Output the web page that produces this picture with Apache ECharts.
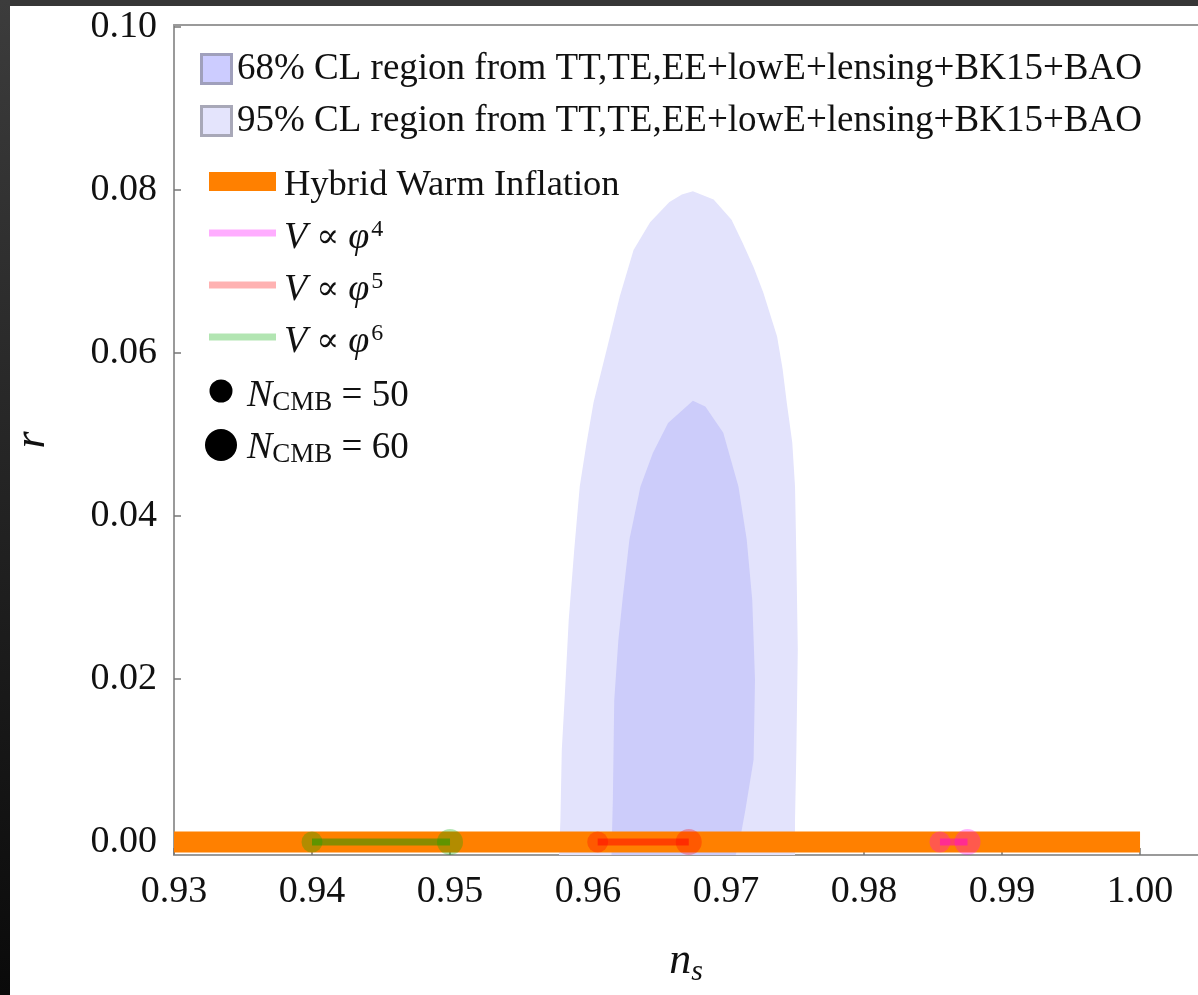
<!DOCTYPE html>
<html><head><meta charset="utf-8">
<script src="https://cdn.jsdelivr.net/npm/echarts@6/dist/echarts.min.js"></script>
<style>html,body{margin:0;padding:0;background:#fff}#c{width:1198px;height:995px}</style>
</head><body><div id="c"></div>
<script>
// ---- data ----
const xTicks = [0.93, 0.94, 0.95, 0.96, 0.97, 0.98, 0.99, 1.00];
const yTicks = [0.00, 0.02, 0.04, 0.06, 0.08, 0.10];

// 95% CL contour (ns, r)
const contour95 = [
  [0.9579,-0.0016],[0.9580,0.0027],[0.9581,0.0113],[0.9583,0.0174],[0.9586,0.0272],
  [0.9590,0.0358],[0.9594,0.0436],[0.9599,0.0490],[0.9604,0.0539],[0.9614,0.0607],
  [0.9623,0.0669],[0.9633,0.0726],[0.9645,0.0760],[0.9659,0.0785],[0.9668,0.0794],
  [0.9676,0.0798],[0.9691,0.0788],[0.9704,0.0763],[0.9712,0.0735],[0.9720,0.0705],
  [0.9727,0.0674],[0.9737,0.0620],[0.9741,0.0580],[0.9744,0.0539],[0.9748,0.0490],
  [0.9750,0.0436],[0.9751,0.0346],[0.9752,0.0236],[0.9751,0.0113],[0.9750,0.0027],
  [0.9750,-0.0016]
];
// 68% CL contour (ns, r)
const contour68 = [
  [0.9617,-0.0016],[0.9618,0.0052],[0.9619,0.0174],[0.9622,0.0248],[0.9625,0.0297],
  [0.9630,0.0371],[0.9638,0.0436],[0.9647,0.0477],[0.9658,0.0514],[0.9676,0.0541],
  [0.9685,0.0534],[0.9698,0.0502],[0.9709,0.0436],[0.9715,0.0371],[0.9719,0.0297],
  [0.9721,0.0199],[0.9720,0.0101],[0.9714,0.0039],[0.9710,0.0002],[0.9707,-0.0016]
];
const hybridNs = [0.93, 1.00];
const hybridR  = [0, 0];
const nCmb   = [50, 60];
const phi4Ns = [0.9855, 0.9875];
const phi5Ns = [0.9607, 0.9673];
const phi6Ns = [0.9400, 0.9500];
const modelR = [0, 0];

// ---- styling ----
const FONT = 'Liberation Serif';
const AXIS_COLOR = '#9a9a9a';
const dotSize = {50: 21, 60: 26};

function polySeries(name, pts, color, z) {
  return {
    type: 'custom', name, z, silent: true, animation: false,
    data: pts,
    encode: {x: 0, y: 1},
    renderItem: (params, api) => {
      if (params.dataIndex !== 0) return null;
      return {
        type: 'polygon',
        shape: {points: pts.map(p => api.coord(p))},
        style: {fill: color}
      };
    }
  };
}
function modelSeries(name, ns, lineColor, dotColor, z) {
  return {
    type: 'line', name, z, animation: false, silent: true,
    data: ns.map((x, i) => ({value: [x, modelR[i]], symbolSize: dotSize[nCmb[i]]})),
    symbol: 'circle', showSymbol: true,
    lineStyle: {color: lineColor, width: 7, cap: 'butt'},
    itemStyle: {color: dotColor}
  };
}

const chart = echarts.init(document.getElementById('c'), null, {renderer: 'canvas'});

const legendText = (x, y, text, rich, size) => ({
  type: 'text', x, y, silent: true,
  style: {text, font: (size || 36) + 'px "' + FONT + '"', fill: '#111', align: 'left', verticalAlign: 'middle',
          textAlign: 'left', textVerticalAlign: 'middle', rich: rich || {}}
});
const mathRich = {
  i: {fontFamily: FONT, fontSize: 38, fontStyle: 'italic', color: '#111'},
  sup: {fontFamily: FONT, fontSize: 24, color: '#111', padding: [0, 0, 16, 2]},
  sub: {fontFamily: FONT, fontSize: 27, color: '#111', padding: [14, 0, 0, 0]},
  t: {fontFamily: FONT, fontSize: 37, color: '#111'},
  p: {fontFamily: 'DejaVu Serif', fontSize: 34, color: '#111'}
};

const X_MIN = 0.93, X_MAX = 1.0042;

chart.setOption({
  backgroundColor: '#ffffff',
  animation: false,
  grid: {left: 174, top: 25, right: 0, height: 830, show: false},
  xAxis: [{
    type: 'value', min: X_MIN, max: X_MAX,
    name: '{n|n}{s|s}', nameLocation: 'middle', nameGap: 80,
    nameTextStyle: {rich: {
      n: {fontFamily: FONT, fontSize: 44, fontStyle: 'italic', color: '#111'},
      s: {fontFamily: FONT, fontSize: 30, fontStyle: 'italic', color: '#111', padding: [22, 0, 0, 0]}
    }},
    axisLine: {show: true, onZero: false, lineStyle: {color: AXIS_COLOR, width: 2}},
    axisTick: {show: true, inside: true, length: 7, lineStyle: {color: '#777', width: 1.5}, customValues: xTicks},
    axisLabel: {customValues: xTicks, formatter: v => v.toFixed(2), fontFamily: FONT, fontSize: 38, color: '#111', margin: 18},
    splitLine: {show: false}
  }, {
    type: 'value', min: X_MIN, max: X_MAX, position: 'top',
    axisLine: {show: true, onZero: false, lineStyle: {color: AXIS_COLOR, width: 2}},
    axisTick: {show: false}, axisLabel: {show: false}, splitLine: {show: false}
  }],
  yAxis: {
    type: 'value', min: -0.0016, max: 0.1002,
    name: 'r', nameLocation: 'middle', nameGap: 120,
    nameTextStyle: {fontFamily: FONT, fontSize: 44, fontStyle: 'italic', color: '#111'},
    axisLine: {show: true, onZero: false, lineStyle: {color: AXIS_COLOR, width: 2}},
    axisTick: {show: true, inside: true, length: 7, lineStyle: {color: '#777', width: 1.5}, customValues: yTicks},
    axisLabel: {customValues: yTicks, formatter: v => v.toFixed(2), fontFamily: FONT, fontSize: 38, color: '#111', margin: 17},
    splitLine: {show: false}
  },
  series: [
    polySeries('95% CL', contour95, '#e3e3fc', 1),
    polySeries('68% CL', contour68, '#ccccfa', 2),
    {
      type: 'line', name: 'Hybrid Warm Inflation', z: 3, animation: false, silent: true,
      data: hybridNs.map((x, i) => [x, hybridR[i]]),
      symbol: 'none', lineStyle: {color: '#ff8000', width: 21, cap: 'butt'}
    },
    modelSeries('phi6', phi6Ns, 'rgba(20,150,0,0.5)', 'rgba(0,170,0,0.3)', 4),
    modelSeries('phi5', phi5Ns, 'rgba(255,0,0,0.5)', 'rgba(255,0,0,0.3)', 5),
    modelSeries('phi4', phi4Ns, 'rgba(255,0,200,0.5)', 'rgba(255,0,255,0.3)', 6)
  ],
  graphic: [
    {type: 'rect', shape: {x: 0, y: 0, width: 1198, height: 6}, style: {fill: '#363636'}, silent: true},
    {type: 'rect', shape: {x: 0, y: 0, width: 10, height: 995}, silent: true,
     style: {fill: new echarts.graphic.LinearGradient(0, 0, 0, 1, [{offset: 0, color: '#3c3c3c'}, {offset: 1, color: '#0a0a0a'}])}},
    // legend: CL regions
    {type: 'rect', shape: {x: 201.5, y: 54.5, width: 30, height: 29}, style: {fill: '#ccccff', stroke: '#a0a0bc', lineWidth: 3}, silent: true},
    legendText(237, 69, '68% CL region from TT,TE,EE+lowE+lensing+BK15+BAO', null, 37),
    {type: 'rect', shape: {x: 201.5, y: 106.5, width: 30, height: 29}, style: {fill: '#e4e4fc', stroke: '#a8a8b8', lineWidth: 3}, silent: true},
    legendText(237, 121, '95% CL region from TT,TE,EE+lowE+lensing+BK15+BAO', null, 37),
    // legend: models
    {type: 'rect', shape: {x: 209, y: 172, width: 67, height: 19}, style: {fill: '#ff8000'}, silent: true},
    legendText(284, 185, 'Hybrid Warm Inflation', null, 36.5),
    {type: 'line', shape: {x1: 209, y1: 233, x2: 276, y2: 233}, style: {stroke: 'rgba(255,0,255,0.32)', lineWidth: 7}, silent: true},
    legendText(284, 238, '{i|V} {p|∝} {i|φ}{sup|4}', mathRich),
    {type: 'line', shape: {x1: 209, y1: 285, x2: 276, y2: 285}, style: {stroke: 'rgba(255,0,0,0.3)', lineWidth: 7}, silent: true},
    legendText(284, 290, '{i|V} {p|∝} {i|φ}{sup|5}', mathRich),
    {type: 'line', shape: {x1: 209, y1: 337, x2: 276, y2: 337}, style: {stroke: 'rgba(0,170,0,0.3)', lineWidth: 7}, silent: true},
    legendText(284, 342, '{i|V} {p|∝} {i|φ}{sup|6}', mathRich),
    {type: 'circle', shape: {cx: 221, cy: 391, r: 11.5}, style: {fill: '#000'}, silent: true},
    legendText(247, 396, '{i|N}{sub|CMB}{t| = 50}', mathRich),
    {type: 'circle', shape: {cx: 221, cy: 445, r: 16}, style: {fill: '#000'}, silent: true},
    legendText(247, 448, '{i|N}{sub|CMB}{t| = 60}', mathRich)
  ]
});
</script>
</body></html>
